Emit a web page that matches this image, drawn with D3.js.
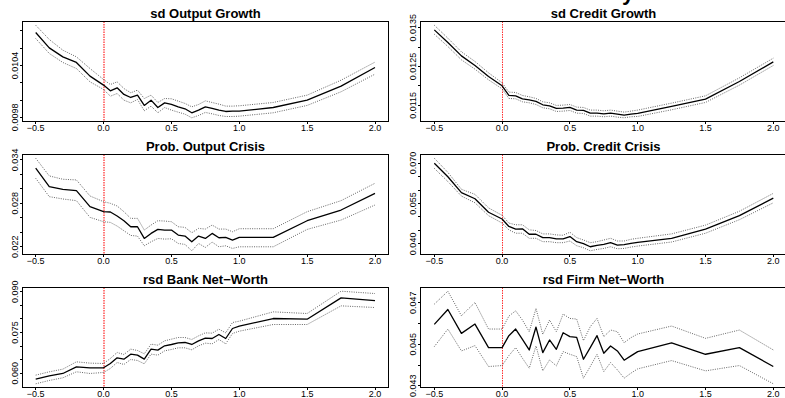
<!DOCTYPE html>
<html><head><meta charset="utf-8">
<script src="https://cdn.jsdelivr.net/npm/d3@7"></script>
<style>html,body{margin:0;padding:0;background:#fff;overflow:hidden}</style>
</head><body><svg id="c" width="785" height="398"></svg>
<script>
// ---------- data ----------
const xVals = [-0.5,-0.4,-0.3,-0.2,-0.1,0,0.05,0.1,0.15,0.2,0.25,0.3,0.35,0.4,0.45,0.5,0.55,0.6,0.65,0.7,0.75,0.8,0.85,0.9,0.95,1.0,1.25,1.5,1.75,2.0];
const xTicks = [-0.5,0,0.5,1,1.5,2];
const xTickLabels = ["\u22120.5","0.0","0.5","1.0","1.5","2.0"];
const titles = ["sd Output Growth","sd Credit Growth","Prob. Output Crisis","Prob. Credit Crisis","rsd Bank Net\u2212Worth","rsd Firm Net\u2212Worth"];

const sdOutputMean  = [0.010782,0.010604,0.010500,0.010435,0.010277,0.010173,0.010107,0.010142,0.010065,0.010030,0.010057,0.009938,0.009999,0.009914,0.009968,0.009949,0.009922,0.009899,0.009853,0.009884,0.009922,0.009903,0.009884,0.009868,0.009872,0.009872,0.009914,0.009999,0.010161,0.010377];
const sdOutputUpper = [0.010866,0.010701,0.010577,0.010500,0.010365,0.010238,0.010180,0.010211,0.010134,0.010084,0.010115,0.010018,0.010057,0.009972,0.010018,0.010015,0.009988,0.009961,0.009922,0.009949,0.009991,0.009972,0.009953,0.009930,0.009930,0.009934,0.009972,0.010057,0.010230,0.010439];
const sdOutputLower = [0.010712,0.010539,0.010435,0.010365,0.010211,0.010123,0.010045,0.010076,0.009999,0.009968,0.010007,0.009876,0.009930,0.009853,0.009914,0.009884,0.009860,0.009837,0.009795,0.009822,0.009857,0.009841,0.009822,0.009810,0.009810,0.009814,0.009853,0.009938,0.010096,0.010300];

const sdCreditMean  = [0.013443,0.013117,0.012774,0.012526,0.012243,0.012003,0.011754,0.011745,0.011668,0.011642,0.011600,0.011514,0.011488,0.011419,0.011428,0.011445,0.011377,0.011368,0.011299,0.011299,0.011282,0.011299,0.011274,0.011248,0.011274,0.011291,0.011471,0.011660,0.012114,0.012620];
const sdCreditUpper = [0.013563,0.013229,0.012877,0.012629,0.012337,0.012080,0.011840,0.011831,0.011754,0.011720,0.011677,0.011591,0.011565,0.011497,0.011505,0.011522,0.011454,0.011445,0.011377,0.011377,0.011359,0.011377,0.011351,0.011325,0.011351,0.011377,0.011557,0.011745,0.012208,0.012714];
const sdCreditLower = [0.013332,0.013015,0.012672,0.012431,0.012157,0.011925,0.011677,0.011668,0.011591,0.011565,0.011522,0.011437,0.011411,0.011342,0.011351,0.011368,0.011299,0.011291,0.011222,0.011222,0.011205,0.011222,0.011196,0.011179,0.011205,0.011214,0.011385,0.011574,0.012020,0.012526];

const probOutputMean  = [0.032846,0.030308,0.029938,0.029754,0.027538,0.026846,0.026800,0.026246,0.025600,0.024769,0.024769,0.023154,0.023846,0.024400,0.024308,0.024308,0.023616,0.023477,0.022693,0.023477,0.023154,0.023846,0.023247,0.023293,0.022923,0.023293,0.023293,0.025600,0.027077,0.029385];
const probOutputUpper = [0.034230,0.031784,0.031323,0.031231,0.029015,0.028231,0.028000,0.027631,0.026846,0.025923,0.025923,0.024308,0.025000,0.025600,0.025554,0.025462,0.024769,0.024677,0.023939,0.024539,0.024446,0.025000,0.024446,0.024446,0.024077,0.024493,0.024493,0.026846,0.028369,0.030769];
const probOutputLower = [0.031461,0.028923,0.028600,0.028369,0.026062,0.025462,0.025369,0.024862,0.024216,0.023570,0.023477,0.022139,0.022693,0.023154,0.023062,0.023108,0.022462,0.022324,0.021447,0.022462,0.021908,0.022647,0.022000,0.022139,0.021770,0.022000,0.022000,0.024400,0.025692,0.027769];

const probCreditMean  = [0.069937,0.064916,0.059017,0.056757,0.051736,0.049226,0.046465,0.045460,0.045586,0.043578,0.043578,0.042322,0.042322,0.041820,0.041820,0.042699,0.040816,0.040063,0.038933,0.039436,0.039812,0.040440,0.039561,0.039687,0.040189,0.040565,0.042071,0.045460,0.050481,0.057008];
const probCreditUpper = [0.071820,0.066548,0.060272,0.058389,0.053368,0.050607,0.047720,0.047092,0.047092,0.045209,0.044958,0.043703,0.043703,0.043327,0.043201,0.044331,0.042322,0.041444,0.040440,0.040816,0.041444,0.042071,0.041067,0.041067,0.041695,0.042071,0.043703,0.046967,0.052113,0.058766];
const probCreditLower = [0.068054,0.063159,0.057761,0.055251,0.050481,0.047720,0.045209,0.043954,0.043954,0.042071,0.042071,0.040816,0.040816,0.040440,0.040440,0.041067,0.039310,0.038557,0.037427,0.037929,0.038306,0.038933,0.038180,0.038306,0.038808,0.039184,0.040691,0.043954,0.048975,0.055251];

const rsdBankMean  = [0.057857,0.059081,0.059939,0.062388,0.062020,0.062020,0.063612,0.065694,0.065204,0.067041,0.066673,0.065204,0.068877,0.068510,0.070102,0.070592,0.071204,0.071326,0.070592,0.071939,0.072918,0.072796,0.074265,0.072796,0.076469,0.077327,0.080143,0.079898,0.087735,0.086755];
const rsdBankUpper = [0.059326,0.060551,0.061530,0.064224,0.063735,0.063612,0.065449,0.067653,0.066918,0.068877,0.068388,0.067163,0.070714,0.070347,0.071939,0.072551,0.073163,0.073163,0.072429,0.073775,0.074878,0.074755,0.076225,0.074878,0.078674,0.079163,0.082592,0.081980,0.090184,0.089327];
const rsdBankLower = [0.056143,0.057367,0.058347,0.060551,0.059939,0.060306,0.061775,0.063979,0.063245,0.065082,0.064714,0.063490,0.067041,0.066673,0.068265,0.068755,0.069367,0.069367,0.068633,0.070102,0.071082,0.070837,0.072429,0.070837,0.074633,0.075490,0.077939,0.077939,0.084796,0.084184];

const rsdFirmMean  = [0.045960,0.046680,0.045528,0.045976,0.044840,0.044840,0.045416,0.045736,0.045240,0.044728,0.045832,0.044600,0.045208,0.044760,0.045560,0.045368,0.045336,0.044280,0.044840,0.045416,0.044568,0.044920,0.044680,0.044232,0.044440,0.044648,0.045064,0.044520,0.044840,0.043928];
const rsdFirmUpper = [0.046936,0.047560,0.046376,0.047016,0.045736,0.045736,0.046360,0.046616,0.046168,0.045608,0.046728,0.045480,0.046168,0.045608,0.046456,0.046248,0.046216,0.045176,0.045848,0.046248,0.045368,0.045688,0.045608,0.045080,0.045320,0.045496,0.045880,0.045288,0.045688,0.044728];
const rsdFirmLower = [0.044888,0.045736,0.044680,0.044936,0.043928,0.043976,0.044456,0.044840,0.044328,0.043848,0.044920,0.043720,0.044248,0.043960,0.044648,0.044520,0.044408,0.043368,0.043928,0.044520,0.043688,0.044120,0.043768,0.043368,0.043608,0.043816,0.044216,0.043720,0.043976,0.043096];

const yTicks1 = [0.0098,0.0100,0.0102,0.0104,0.0106,0.0108];
const yLabels1 = ["0.0098","","","0.0104","",""];
const yTicks2 = [0.0115,0.0120,0.0125,0.0130,0.0135];
const yLabels2 = ["0.0115","","0.0125","","0.0135"];
const yTicks3 = [0.022,0.024,0.026,0.028,0.030,0.032,0.034];
const yLabels3 = ["0.022","","","0.028","","","0.034"];
const yTicks4 = [0.040,0.045,0.050,0.055,0.060,0.065,0.070];
const yLabels4 = ["0.040","","","0.055","","","0.070"];
const yTicks5 = [0.060,0.065,0.070,0.075,0.080,0.085,0.090];
const yLabels5 = ["0.060","","","0.075","","","0.090"];
const yTicks6 = [0.043,0.044,0.045,0.046,0.047];
const yLabels6 = ["0.043","","0.045","","0.047"];

// ---------- build ----------
const panels = [
  {title:titles[0], mean:sdOutputMean, up:sdOutputUpper, lo:sdOutputLower, ticks:yTicks1, labels:yLabels1},
  {title:titles[1], mean:sdCreditMean, up:sdCreditUpper, lo:sdCreditLower, ticks:yTicks2, labels:yLabels2},
  {title:titles[2], mean:probOutputMean, up:probOutputUpper, lo:probOutputLower, ticks:yTicks3, labels:yLabels3},
  {title:titles[3], mean:probCreditMean, up:probCreditUpper, lo:probCreditLower, ticks:yTicks4, labels:yLabels4},
  {title:titles[4], mean:rsdBankMean, up:rsdBankUpper, lo:rsdBankLower, ticks:yTicks5, labels:yLabels5},
  {title:titles[5], mean:rsdFirmMean, up:rsdFirmUpper, lo:rsdFirmLower, ticks:yTicks6, labels:yLabels6}
];

const FONT = "'Liberation Sans', Arial, Helvetica, sans-serif";
const colRange = [[35.7,375.0],[434.3,773.3]];
const rowTop = [21, 154.2, 287.4];
const H = 100.5;
const snap = v => Math.round(v - 0.5) + 0.5;

const svg = d3.select("#c");
svg.append("rect").attr("width",785).attr("height",398).attr("fill","#fff");

// fragment of the outer title cut at the top edge
svg.append("text").attr("x",628).attr("y",0).attr("text-anchor","middle")
  .attr("font-family",FONT).attr("font-weight","bold").attr("font-size",22).text("y");

panels.forEach((p,i)=>{
  const col = i%2, row = Math.floor(i/2);
  const x = d3.scaleLinear().domain([-0.5,2.0]).range(colRange[col]);
  const top = snap(rowTop[row]), bot = snap(rowTop[row]+H);
  const all = p.up.concat(p.lo, p.mean);
  const mn = d3.min(all), mx = d3.max(all), pad = (mx-mn)*0.04;
  const y = d3.scaleLinear().domain([mn-pad, mx+pad]).range([bot, top]);
  const g = svg.append("g");
  const x0 = snap(x(-0.6)), x1 = snap(x(2.1));

  // red reference line at 0
  const xr = col === 0 ? Math.round(x(0)) : snap(x(0));
  g.append("line").attr("x1",xr).attr("x2",xr).attr("y1",top).attr("y2",bot)
    .attr("stroke", col === 0 ? "#ff5050" : "#ff3030")
    .attr("stroke-width", col === 0 ? 1.5 : 1).attr("stroke-dasharray","1.5,1");

  const line = d3.line().x((d,k)=>x(xVals[k])).y(d=>y(d));
  [p.up, p.lo].forEach(arr=>{
    g.append("path").datum(arr).attr("d",line).attr("fill","none")
      .attr("stroke","#555").attr("stroke-width",0.9).attr("stroke-dasharray","1,1.3");
  });
  g.append("path").datum(p.mean).attr("d",line).attr("fill","none")
    .attr("stroke","#000").attr("stroke-width",1.3).attr("stroke-linejoin","round");

  // box
  g.append("rect").attr("x",x0).attr("y",top).attr("width",x1-x0).attr("height",bot-top)
    .attr("fill","none").attr("stroke","#000").attr("stroke-width",1);

  // x axis
  g.append("line").attr("x1",x(-0.5)).attr("x2",x(2.0)).attr("y1",bot).attr("y2",bot)
    .attr("stroke","#000").attr("stroke-width",1);
  xTicks.forEach((t,k)=>{
    const xt = snap(x(t));
    g.append("line").attr("x1",xt).attr("x2",xt).attr("y1",bot).attr("y2",bot+2.5)
      .attr("stroke","#000").attr("stroke-width",1);
    g.append("text").attr("x",x(t)).attr("y",bot+9).attr("text-anchor","middle")
      .attr("font-family",FONT).attr("font-size",9).attr("fill","#000").text(xTickLabels[k]);
  });
  // y axis
  g.append("line").attr("x1",x0).attr("x2",x0).attr("y1",y(p.ticks[0])).attr("y2",y(p.ticks[p.ticks.length-1]))
    .attr("stroke","#000").attr("stroke-width",1);
  p.ticks.forEach((t,k)=>{
    const yt = snap(y(t));
    g.append("line").attr("x1",x0-2.5).attr("x2",x0).attr("y1",yt).attr("y2",yt)
      .attr("stroke","#000").attr("stroke-width",1);
    if (p.labels[k]) {
      g.append("text").attr("transform",`translate(${x0-5},${y(t)}) rotate(-90)`)
        .attr("text-anchor","middle").attr("font-family",FONT).attr("font-size",9)
        .attr("fill","#000").text(p.labels[k]);
    }
  });
  // title
  g.append("text").attr("x",(x0+x1)/2).attr("y",top-3.5).attr("text-anchor","middle")
    .attr("font-family",FONT).attr("font-weight","bold").attr("font-size",13)
    .attr("fill","#000").text(p.title);
});
</script>
</body></html>
